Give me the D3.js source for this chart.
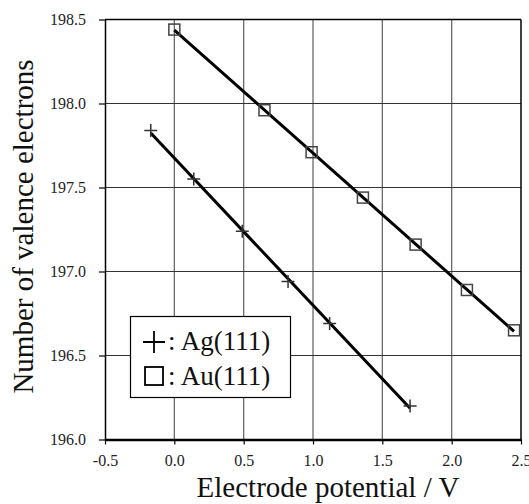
<!DOCTYPE html>
<html>
<head>
<meta charset="utf-8">
<script src="https://cdn.jsdelivr.net/npm/d3@7"></script>
<style>
  body { margin: 0; background: #fff; }
  svg { display: block; font-family: "Liberation Serif", "DejaVu Serif", serif; }
</style>
</head>
<body>
<script>
// values
const agPotential = [-0.17, 0.14, 0.49, 0.82, 1.12, 1.70];
const agElectrons = [197.84, 197.55, 197.24, 196.94, 196.69, 196.20];
const auPotential = [0.00, 0.65, 0.99, 1.36, 1.74, 2.11, 2.45];
const auElectrons = [198.44, 197.96, 197.71, 197.44, 197.16, 196.89, 196.65];
const xTicks = [-0.5, 0.0, 0.5, 1.0, 1.5, 2.0, 2.5];
const yTicks = [196.0, 196.5, 197.0, 197.5, 198.0, 198.5];
const legendLabels = [": Ag(111)", ": Au(111)"];

const width = 529, height = 504;
const margin = {top: 19.5, right: 8, bottom: 64.5, left: 105};

const svg = d3.select("body").append("svg")
    .attr("width", width)
    .attr("height", height);

const xScale = d3.scaleLinear()
    .domain([-0.5, 2.5])
    .range([margin.left, width - margin.right]);

const yScale = d3.scaleLinear()
    .domain([196.0, 198.5])
    .range([height - margin.bottom, margin.top]);

const x0 = xScale.range()[0], x1 = xScale.range()[1];
const y0 = yScale.range()[0], y1 = yScale.range()[1];

// grid
svg.append("g").selectAll("line")
    .data(xTicks.slice(1, -1))
    .enter().append("line")
    .attr("x1", d => xScale(d)).attr("x2", d => xScale(d))
    .attr("y1", y1).attr("y2", y0)
    .attr("stroke", "#6a6a6a")
    .attr("stroke-width", 1.3);

svg.append("g").selectAll("line")
    .data(yTicks.slice(1, -1))
    .enter().append("line")
    .attr("x1", x0).attr("x2", x1)
    .attr("y1", d => yScale(d)).attr("y2", d => yScale(d))
    .attr("stroke", "#333")
    .attr("stroke-width", 1.1);

// frame top + right
svg.append("line").attr("x1", x0).attr("x2", x1).attr("y1", y1).attr("y2", y1)
    .attr("stroke", "#000").attr("stroke-width", 1.5);
svg.append("line").attr("x1", x1).attr("x2", x1).attr("y1", y1).attr("y2", y0)
    .attr("stroke", "#000").attr("stroke-width", 1.5);

// axes (plain hyphen for the minus, like the original)
const fmt = d => d.toFixed(1);

const xAxis = svg.append("g")
    .attr("transform", "translate(0," + y0 + ")")
    .call(d3.axisBottom(xScale).tickValues(xTicks).tickFormat(fmt)
        .tickSize(5).tickSizeOuter(0).tickPadding(10));
xAxis.select(".domain").attr("stroke-width", 2.6);
xAxis.selectAll(".tick line").attr("stroke-width", 1.2);
xAxis.selectAll("text").attr("font-size", 16).attr("fill", "#222")
    .attr("font-family", "Liberation Serif");

const yAxis = svg.append("g")
    .attr("transform", "translate(" + x0 + ",0)")
    .call(d3.axisLeft(yScale).tickValues(yTicks).tickFormat(fmt)
        .tickSize(6).tickSizeOuter(0).tickPadding(13));
yAxis.select(".domain").attr("stroke-width", 1.5);
yAxis.selectAll(".tick line").attr("stroke-width", 1.2);
yAxis.selectAll("text").attr("font-size", 16).attr("fill", "#222")
    .attr("font-family", "Liberation Serif");

// least squares fit lines
function fit(xs, ys) {
    const mx = d3.mean(xs), my = d3.mean(ys);
    const b = d3.sum(xs, (x, i) => (x - mx) * (ys[i] - my)) / d3.sum(xs, x => (x - mx) * (x - mx));
    const a = my - b * mx;
    const ext = d3.extent(xs);
    return ext.map(x => [x, a + b * x]);
}

const line = d3.line()
    .x(d => xScale(d[0]))
    .y(d => yScale(d[1]));

[[agPotential, agElectrons], [auPotential, auElectrons]].forEach(s => {
    svg.append("path")
        .datum(fit(s[0], s[1]))
        .attr("d", line)
        .attr("fill", "none")
        .attr("stroke", "#000")
        .attr("stroke-width", 3);
});

// markers
const ag = agPotential.map((p, i) => ({p: p, n: agElectrons[i]}));
const au = auPotential.map((p, i) => ({p: p, n: auElectrons[i]}));

svg.append("g").selectAll("path")
    .data(ag)
    .enter().append("path")
    .attr("d", d => {
        const cx = xScale(d.p), cy = yScale(d.n), r = 6.5;
        return `M${cx - r},${cy}H${cx + r}M${cx},${cy - r}V${cy + r}`;
    })
    .attr("stroke", "#333")
    .attr("stroke-width", 1.5);

svg.append("g").selectAll("rect")
    .data(au)
    .enter().append("rect")
    .attr("x", d => xScale(d.p) - 5.5)
    .attr("y", d => yScale(d.n) - 5.5)
    .attr("width", 11)
    .attr("height", 11)
    .attr("fill", "none")
    .attr("stroke", "#444")
    .attr("stroke-width", 1.5);

// legend
const legend = svg.append("g");
legend.append("rect")
    .attr("x", 130.5).attr("y", 316.5)
    .attr("width", 160).attr("height", 81)
    .attr("fill", "#fff")
    .attr("stroke", "#000")
    .attr("stroke-width", 1.2);

legend.append("path")
    .attr("d", "M143,342H165M154,331V353")
    .attr("stroke", "#000").attr("stroke-width", 1.8);
legend.append("rect")
    .attr("x", 145).attr("y", 367).attr("width", 18).attr("height", 18)
    .attr("fill", "none").attr("stroke", "#000").attr("stroke-width", 1.8);

legend.selectAll("text")
    .data(legendLabels)
    .enter().append("text")
    .attr("x", 168)
    .attr("y", (d, i) => 350 + i * 35)
    .attr("font-size", 27)
    .attr("fill", "#111")
    .text(d => d);

// axis titles
svg.append("text")
    .attr("x", 328)
    .attr("y", 497)
    .attr("text-anchor", "middle")
    .attr("font-size", 29)
    .attr("fill", "#111")
    .text("Electrode potential / V");

svg.append("text")
    .attr("transform", "translate(33,226.5) rotate(-90)")
    .attr("text-anchor", "middle")
    .attr("font-size", 29)
    .attr("fill", "#111")
    .text("Number of valence electrons");
</script>
</body>
</html>
